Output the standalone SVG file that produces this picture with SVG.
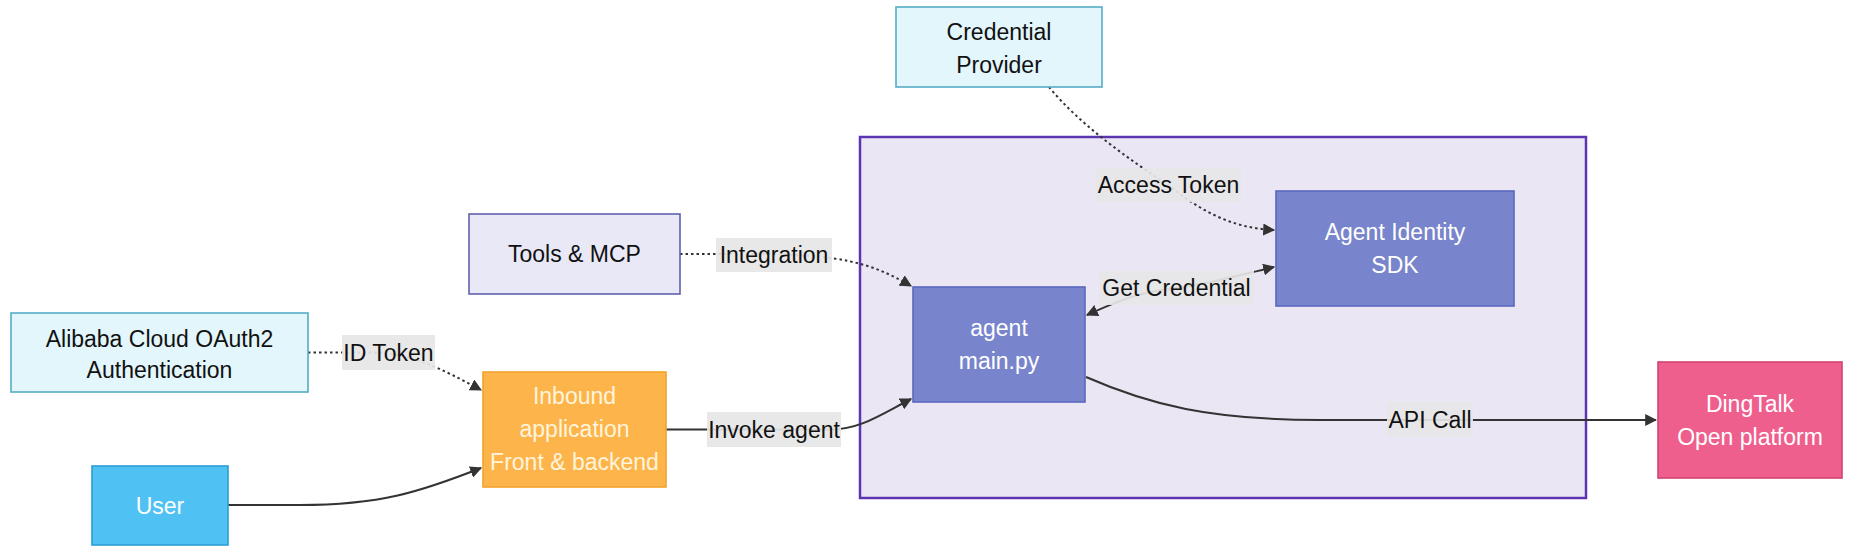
<svg xmlns="http://www.w3.org/2000/svg" width="1872" height="560" viewBox="0 0 1872 560">
<style>
text{font-family:"Liberation Sans",Arial,sans-serif;font-size:23px;text-anchor:middle}
.dark{fill:#111}
.light{fill:#ffffff}
.cream{fill:#fff4dc}
.edge{fill:none;stroke:#333;stroke-width:2}
.dot{stroke-dasharray:2.5,3}
.lbl{fill:#e6e6e6;fill-opacity:0.92}
.ltxt{fill:#111}
.pale{fill:#e2f6fc;stroke:#56adc6;stroke-width:1.6}
.blue{fill:#4fc1f3;stroke:#2b9fd6;stroke-width:1.6}
.orange{fill:#fdb44b;stroke:#f3a32c;stroke-width:1.6}
.lav{fill:#e8e8f7;stroke:#5f62ad;stroke-width:1.6}
.indigo{fill:#7884cb;stroke:#5a68bf;stroke-width:1.6}
.pink{fill:#ef5f8e;stroke:#d4426f;stroke-width:1.6}
</style>
<defs>
<marker id="arr" viewBox="0 0 10 10" refX="9" refY="5" markerWidth="12" markerHeight="12" markerUnits="userSpaceOnUse" orient="auto-start-reverse">
<path d="M0,0 L10,5 L0,10 z" fill="#333"/>
</marker>
</defs>
<rect width="1872" height="560" fill="#ffffff"/>
<g id="cluster">
<rect x="860" y="137" width="726" height="361" fill="#ebe6f4" stroke="#5e35b1" stroke-width="2.5"/>
</g>
<g id="connectors">
<path class="edge dot" d="M308,352.5 L370,352.5 C410,352.5 440,368 481,390" marker-end="url(#arr)"/>
<path class="edge" d="M228,505 L300,505 C380,505 420,492 481,468" marker-end="url(#arr)"/>
<path class="edge" d="M666,429.5 L830,429.5 C860,429.5 880,415 911,399" marker-end="url(#arr)"/>
<path class="edge dot" d="M680,254 L760,254 C840,255 870,262 911,286" marker-end="url(#arr)"/>
<path class="edge dot" d="M1049,87 C1080,125 1130,160 1168,185 C1200,210 1230,228 1274,230" marker-end="url(#arr)"/>
<path class="edge" d="M1087,315 C1120,300 1140,292 1176,288 C1210,284 1240,275 1274,267" marker-start="url(#arr)" marker-end="url(#arr)"/>
<path class="edge" d="M1086,377 C1150,405 1210,420 1320,420 L1656,420" marker-end="url(#arr)"/>
<rect class="lbl" x="342" y="335" width="93" height="35"/>
<text class="ltxt" x="388.5" y="361">ID Token</text>
<rect class="lbl" x="716" y="238" width="116" height="34"/>
<text class="ltxt" x="774" y="263">Integration</text>
<rect class="lbl" x="707" y="412" width="134" height="35"/>
<text class="ltxt" x="774" y="438">Invoke agent</text>
<rect class="lbl" x="1096" y="168" width="145" height="34"/>
<text class="ltxt" x="1168.5" y="193">Access Token</text>
<rect class="lbl" x="1099" y="271" width="155" height="34"/>
<text class="ltxt" x="1176.5" y="296">Get Credential</text>
<rect class="lbl" x="1387" y="402" width="86" height="35"/>
<text class="ltxt" x="1430" y="428">API Call</text>
</g>
<g id="alibaba">
<rect class="pale" x="11" y="313" width="297" height="79"/>
<text class="dark" x="159.5" y="347">Alibaba Cloud OAuth2</text>
<text class="dark" x="159.5" y="378">Authentication</text>
</g>
<g id="user">
<rect class="blue" x="92" y="466" width="136" height="79"/>
<text class="light" x="160" y="514">User</text>
</g>
<g id="inbound">
<rect class="orange" x="483" y="372" width="183" height="115"/>
<text class="cream" x="574.5" y="404">Inbound</text>
<text class="cream" x="574.5" y="437">application</text>
<text class="cream" x="574.5" y="470">Front &amp; backend</text>
</g>
<g id="tools">
<rect class="lav" x="469" y="214" width="211" height="80"/>
<text class="dark" x="574.5" y="262">Tools &amp; MCP</text>
</g>
<g id="credprov">
<rect class="pale" x="896" y="7" width="206" height="80"/>
<text class="dark" x="999" y="40">Credential</text>
<text class="dark" x="999" y="73">Provider</text>
</g>
<g id="agent">
<rect class="indigo" x="913" y="287" width="172" height="115"/>
<text class="light" x="999" y="336">agent</text>
<text class="light" x="999" y="369">main.py</text>
</g>
<g id="sdk">
<rect class="indigo" x="1276" y="191" width="238" height="115"/>
<text class="light" x="1395" y="239.5">Agent Identity</text>
<text class="light" x="1395" y="272.5">SDK</text>
</g>
<g id="dingtalk">
<rect class="pink" x="1658" y="362" width="184" height="116"/>
<text class="light" x="1750" y="411.5">DingTalk</text>
<text class="light" x="1750" y="444.5">Open platform</text>
</g>
</svg>
